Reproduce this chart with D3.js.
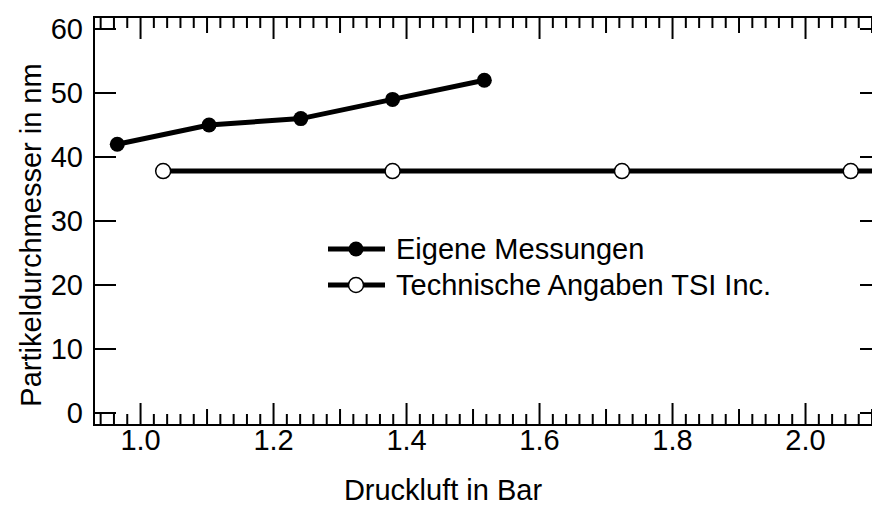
<!DOCTYPE html>
<html>
<head>
<meta charset="utf-8">
<script src="https://cdn.jsdelivr.net/npm/d3@7"></script>
<style>
  body { margin: 0; background: #fff; }
  svg { font-family: Arial, "Liberation Sans", sans-serif; }
</style>
</head>
<body>
<svg width="872" height="507"></svg>
<script>
// Eigene Messungen (filled markers)
var ownPressure = [0.965, 1.103, 1.241, 1.379, 1.517];
var ownDiameter = [42, 45, 46, 49, 52];
// Technische Angaben TSI Inc. (open markers)
var tsiPressure = [1.034, 1.379, 1.724, 2.068, 2.413];
var tsiDiameter = [37.8, 37.8, 37.8, 37.8, 37.8];

var seriesNames = ["Eigene Messungen", "Technische Angaben TSI Inc."];
var xTickValues = [1.0, 1.2, 1.4, 1.6, 1.8, 2.0];
var yTickValues = [0, 10, 20, 30, 40, 50, 60];

var svg = d3.select('svg'),
    width = +svg.attr("width"),
    height = +svg.attr("height");

var plot = {left: 94, top: 17, right: 882, bottom: 425};
var fontSize = 29;

var xScale = d3.scaleLinear()
    .domain([0.93, 2.115])
    .range([plot.left, plot.right]);

var yScale = d3.scaleLinear()
    .domain([-1.875, 61.875])
    .range([plot.bottom, plot.top]);

svg.append("defs").append("clipPath")
    .attr("id", "clip")
    .append("rect")
    .attr("x", plot.left).attr("y", plot.top)
    .attr("width", plot.right - plot.left)
    .attr("height", plot.bottom - plot.top);

//tick sets: minor every 0.02, middle every 0.1, major every 0.2
var minorTicks = d3.range(47, 106).map(d => d / 50);
var tickLen = v => {
    var k = Math.round(v * 50);
    if (k % 10 == 0) return 22;
    if (k % 5 == 0) return 16;
    return 11;
};

var axes = svg.append('g').attr('stroke', 'black').attr('stroke-width', 2);

// frame
axes.append('rect')
    .attr('x', plot.left).attr('y', plot.top)
    .attr('width', plot.right - plot.left)
    .attr('height', plot.bottom - plot.top)
    .attr('fill', 'none');

// bottom and top ticks
axes.selectAll('.xb').data(minorTicks).enter().append('line')
    .attr('x1', d => xScale(d)).attr('x2', d => xScale(d))
    .attr('y1', plot.bottom).attr('y2', d => plot.bottom - tickLen(d));
axes.selectAll('.xt').data(minorTicks).enter().append('line')
    .attr('x1', d => xScale(d)).attr('x2', d => xScale(d))
    .attr('y1', plot.top).attr('y2', d => plot.top + tickLen(d));

// left and right ticks
axes.selectAll('.yl').data(yTickValues).enter().append('line')
    .attr('x1', plot.left).attr('x2', plot.left + 22)
    .attr('y1', d => yScale(d)).attr('y2', d => yScale(d));
axes.selectAll('.yr').data(yTickValues).enter().append('line')
    .attr('x1', plot.right).attr('x2', plot.right - 22)
    .attr('y1', d => yScale(d)).attr('y2', d => yScale(d));

// tick labels
svg.selectAll('.xl').data(xTickValues).enter().append('text')
    .attr('x', d => xScale(d))
    .attr('y', 450)
    .attr('text-anchor', 'middle')
    .attr('font-size', fontSize)
    .text(d => d3.format('.1f')(d));

svg.selectAll('.ylab').data(yTickValues).enter().append('text')
    .attr('x', 83)
    .attr('y', d => yScale(d))
    .attr('dy', '0.35em')
    .attr('text-anchor', 'end')
    .attr('font-size', fontSize)
    .text(d => d);

// axis titles
svg.append('text')
    .attr('x', 443).attr('y', 500)
    .attr('text-anchor', 'middle')
    .attr('font-size', fontSize)
    .text('Druckluft in Bar');

svg.append('text')
    .attr('transform', 'translate(41,235) rotate(-90)')
    .attr('text-anchor', 'middle')
    .attr('font-size', fontSize)
    .text('Partikeldurchmesser in nm');

// data lines
var own = ownPressure.map((p, i) => ({x: p, y: ownDiameter[i]}));
var tsi = tsiPressure.map((p, i) => ({x: p, y: tsiDiameter[i]}));

var lineGenerator = d3.line()
    .x(d => xScale(d.x))
    .y(d => yScale(d.y));

var g = svg.append('g').attr('clip-path', 'url(#clip)');

g.append('path')
    .attr('d', lineGenerator(tsi))
    .attr('fill', 'none').attr('stroke', 'black').attr('stroke-width', 5);
g.selectAll('.tsi').data(tsi).enter().append('circle')
    .attr('cx', d => xScale(d.x)).attr('cy', d => yScale(d.y))
    .attr('r', 7.5)
    .attr('fill', 'white').attr('stroke', 'black').attr('stroke-width', 1.5);

g.append('path')
    .attr('d', lineGenerator(own))
    .attr('fill', 'none').attr('stroke', 'black').attr('stroke-width', 5);
g.selectAll('.own').data(own).enter().append('circle')
    .attr('cx', d => xScale(d.x)).attr('cy', d => yScale(d.y))
    .attr('r', 7.5)
    .attr('fill', 'black');

// legend
var legend = svg.append('g');
seriesNames.forEach((name, i) => {
    var y = 249 + i * 36;
    legend.append('line')
        .attr('x1', 328).attr('x2', 385)
        .attr('y1', y).attr('y2', y)
        .attr('stroke', 'black').attr('stroke-width', 5);
    legend.append('circle')
        .attr('cx', 356).attr('cy', y)
        .attr('r', 7.5)
        .attr('fill', i == 0 ? 'black' : 'white')
        .attr('stroke', 'black').attr('stroke-width', i == 0 ? 0 : 1.5);
    legend.append('text')
        .attr('x', 396).attr('y', y)
        .attr('dy', '0.35em')
        .attr('font-size', fontSize)
        .text(name);
});
</script>
</body>
</html>
